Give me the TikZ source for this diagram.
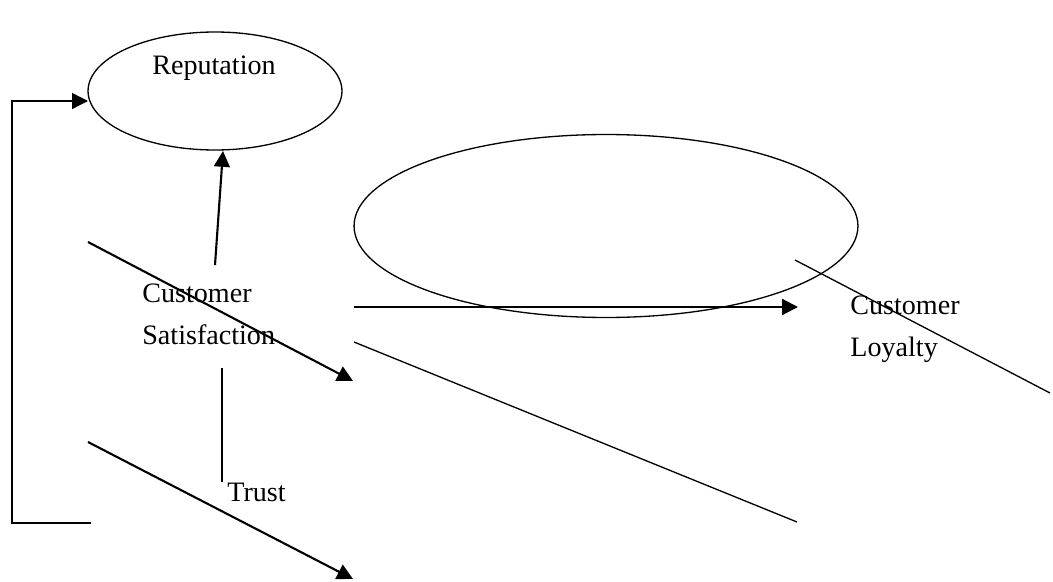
\documentclass[tikz,border=0pt]{standalone}
\usepackage{fontspec}
\setmainfont{Liberation Serif}
\usetikzlibrary{arrows.meta}
\usetikzlibrary{shapes.geometric}
\usetikzlibrary{positioning}

\begin{document}
\begin{tikzpicture}[
    x = 0.02cm, y = -0.02cm,
    >={Triangle[length=9pt, width=9pt]},
    thickline/.style = {black, line width = 1.2pt},
    thinline/.style = {black, line width = 0.75pt},
    label/.style = {font = \fontsize{16}{24}\selectfont, align = left, inner sep = 0pt},
  ]
  \useasboundingbox (0,0) rectangle (1053,581);

  % ellipses
  \node[
      draw, ellipse, thinline, inner sep = 0pt,
      minimum width = 5.08cm, minimum height = 2.36cm
  ] (rep) at (215,91) {};
  \node[
      draw, ellipse, thinline, inner sep = 0pt,
      minimum width = 10.08cm, minimum height = 3.66cm
  ] (big) at (606,226) {};

  % texts
  \node[label] (reptext) at (214,68) {Reputation};
  \node[label, anchor = west] (sat) at (142,314) {Customer\\Satisfaction};
  \node[label, anchor = west] (loyal) at (850,329) {Customer\\Loyalty};
  \node[label, anchor = west] (trust) at (227,492) {Trust};

  % free ends
  \coordinate (satup) at (215,265);
  \coordinate (repin) at (223,151);
  \coordinate (a1s) at (88,242);
  \coordinate (a1e) at (353,381);
  \coordinate (a2s) at (88,442);
  \coordinate (a2e) at (353,579);
  \coordinate (hs) at (354,307);
  \coordinate (he) at (798,307);
  \coordinate (l1s) at (354,342);
  \coordinate (l1e) at (797,522);
  \coordinate (l2s) at (795,260);
  \coordinate (l2e) at (1050,393);
  \coordinate (vs) at (222,368);
  \coordinate (ve) at (222,482);
  \coordinate (fb) at (91,523);
  \coordinate (ft) at (88,101);

  \draw[thickline, ->] (satup) -- (repin);
  \draw[thickline, ->] (a1s) -- (a1e);
  \draw[thickline, ->] (a2s) -- (a2e);
  \draw[thickline, ->] (hs) -- (he);
  \draw[thinline] (l1s) -- (l1e);
  \draw[thinline] (l2s) -- (l2e);
  \draw[thinline] (vs) -- (ve);

  % feedback loop
  \draw[thinline, ->] (fb) -- (12,523) -- (12,101) -- (ft);
\end{tikzpicture}
\end{document}
